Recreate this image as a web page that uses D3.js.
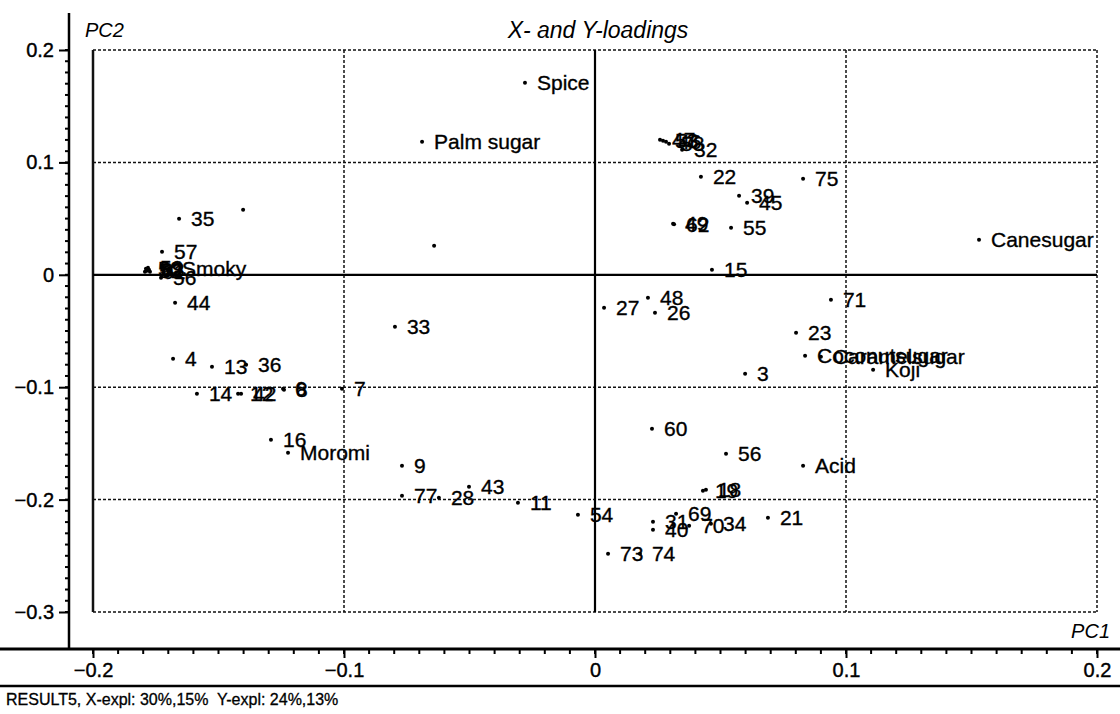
<!DOCTYPE html>
<html>
<head>
<meta charset="utf-8">
<script src="https://cdn.jsdelivr.net/npm/d3@7"></script>
<style>
  body { margin: 0; background: #fff; }
  svg { display: block; font-family: "Liberation Sans", Arial, sans-serif; }
</style>
</head>
<body>
<div class="box"></div>
<script>
// Loadings (PC1, PC2)
const names = ["Spice", "Palm sugar", "47", "53", "46", "58", "32", "22", "75", "39", "45", "49", "62",
  "55", "15", "Canesugar", "27", "48", "26", "71", "23", "Coconutsugar", "Caramelsugar", "Koji", "3",
  "60", "56", "Acid", "19", "18", "21", "31", "40", "69", "70", "34", "73", "74", "54", "11", "43",
  "28", "77", "9", "Moromi", "16", "7", "6", "8", "12", "42", "14", "13", "36", "4", "33", "44",
  "57", "35", "", "", "", "Smoky", "50", "52", "59", "61", "63", "56"];
const pc1 = [-0.0279, -0.0689, 0.0259, 0.0271, 0.0283, 0.0295, 0.0347, 0.0422, 0.0829, 0.0574, 0.0606, 0.0311, 0.0315,
  0.0542, 0.0466, 0.1530, 0.0036, 0.0211, 0.0239, 0.0940, 0.0801, 0.0837, 0.0900, 0.1108, 0.0598,
  0.0227, 0.0522, 0.0829, 0.0430, 0.0442, 0.0689, 0.0231, 0.0231, 0.0323, 0.0375, 0.0462, 0.0052, 0.0179, -0.0068, -0.0307, -0.0502,
  -0.0622, -0.0769, -0.0769, -0.1223, -0.1291, -0.1008, -0.1243, -0.1239, -0.1422, -0.1410, -0.1586, -0.1526, -0.1390, -0.1681, -0.0797, -0.1673,
  -0.1725, -0.1657, -0.1402, -0.0641, -0.1793, -0.1693, -0.1789, -0.1785, -0.1781, -0.1773, -0.1777, -0.1729];
const pc2 = [0.1708, 0.1183, 0.1201, 0.1192, 0.1183, 0.1165, 0.1112, 0.0872, 0.0854, 0.0703, 0.0641, 0.0454, 0.0450,
  0.0418, 0.0044, 0.0311, -0.0294, -0.0205, -0.0338, -0.0222, -0.0516, -0.0721, -0.0730, -0.0845, -0.0881,
  -0.1370, -0.1593, -0.1699, -0.1922, -0.1912, -0.2162, -0.2198, -0.2269, -0.2126, -0.2233, -0.2215, -0.2482, -0.2482, -0.2135, -0.2028, -0.1886,
  -0.1984, -0.1966, -0.1699, -0.1584, -0.1468, -0.1014, -0.1014, -0.1023, -0.1059, -0.1059, -0.1059, -0.0818, -0.0801, -0.0747, -0.0463, -0.0249,
  0.0205, 0.0498, 0.0578, 0.0258, 0.0027, 0.0053, 0.0053, 0.0036, 0.0062, 0.0027, 0.0044, -0.0027];

const gridX = [-0.2, -0.1, 0.1, 0.2];
const gridY = [0.2, 0.1, -0.1, -0.2, -0.3];
const xTicks = [-0.2, -0.1, 0, 0.1, 0.2];
const yTicks = [0.2, 0.1, 0, -0.1, -0.2, -0.3];
const footer = "RESULT5, X-expl: 30%,15%  Y-expl: 24%,13%";

const w = 1120, h = 714;
const axisX = 69, axisY = 649;

const xScale = d3.scaleLinear().domain([-0.2, 0.2]).range([93, 1097]);
const yScale = d3.scaleLinear().domain([-0.3, 0.2]).range([612, 50]);

const svg = d3.select(".box").append("svg")
    .attr("width", w)
    .attr("height", h);

// dotted grid (frame)
svg.selectAll(".gx").data(gridX).enter().append("line")
    .attr("x1", d => xScale(d)).attr("x2", d => xScale(d))
    .attr("y1", yScale(0.2)).attr("y2", yScale(-0.3))
    .attr("stroke", "#111").attr("stroke-width", d => d == -0.2 ? 2.5 : 1.5)
    .attr("stroke-dasharray", d => d == -0.2 ? null : "3,2");
svg.selectAll(".gy").data(gridY).enter().append("line")
    .attr("x1", xScale(-0.2)).attr("x2", xScale(0.2))
    .attr("y1", d => yScale(d)).attr("y2", d => yScale(d))
    .attr("stroke", "#111").attr("stroke-width", 1.5)
    .attr("stroke-dasharray", "3,2");

// zero lines
svg.append("line")
    .attr("x1", xScale(0)).attr("x2", xScale(0))
    .attr("y1", yScale(0.2)).attr("y2", yScale(-0.3))
    .attr("stroke", "#000").attr("stroke-width", 2.2);
svg.append("line")
    .attr("x1", xScale(-0.2)).attr("x2", xScale(0.2))
    .attr("y1", yScale(0)).attr("y2", yScale(0))
    .attr("stroke", "#000").attr("stroke-width", 2.2);

// y axis
const yAxis = d3.axisLeft(yScale).tickValues(yTicks).tickSize(10).tickPadding(5)
    .tickFormat(d => d == 0 ? "0" : d3.format(".1f")(d));
const gy = svg.append("g").attr("transform", "translate(" + axisX + ",0)").call(yAxis);
gy.select(".domain").remove();
gy.selectAll(".tick line").attr("stroke", "#000").attr("stroke-width", 2);
gy.selectAll("text").style("font-size", "20px").attr("fill", "#000")
    .attr("stroke", "#000").attr("stroke-width", 0.4);
svg.selectAll(".ymin").data(d3.range(-30, 21)).enter().append("line")
    .attr("x1", axisX - 4).attr("x2", axisX)
    .attr("y1", d => yScale(d / 100)).attr("y2", d => yScale(d / 100))
    .attr("stroke", "#000").attr("stroke-width", 2);
svg.append("line")
    .attr("x1", axisX).attr("x2", axisX).attr("y1", 13).attr("y2", axisY)
    .attr("stroke", "#000").attr("stroke-width", 2.5);

// x axis
const xAxis = d3.axisBottom(xScale).tickValues(xTicks).tickSize(9).tickPadding(5)
    .tickFormat(d => d == 0 ? "0" : d3.format(".1f")(d));
const gx = svg.append("g").attr("transform", "translate(0," + axisY + ")").call(xAxis);
gx.select(".domain").remove();
gx.selectAll(".tick line").attr("stroke", "#000").attr("stroke-width", 2);
gx.selectAll("text").style("font-size", "20px").attr("fill", "#000")
    .attr("stroke", "#000").attr("stroke-width", 0.4);
svg.selectAll(".xmin").data(d3.range(-20, 21)).enter().append("line")
    .attr("x1", d => xScale(d / 100)).attr("x2", d => xScale(d / 100))
    .attr("y1", axisY).attr("y2", axisY + 5)
    .attr("stroke", "#000").attr("stroke-width", 2);
svg.append("line")
    .attr("x1", 0).attr("x2", w).attr("y1", axisY).attr("y2", axisY)
    .attr("stroke", "#000").attr("stroke-width", 3);
svg.append("line")
    .attr("x1", 0).attr("x2", w).attr("y1", 686).attr("y2", 686)
    .attr("stroke", "#000").attr("stroke-width", 2.5);

// titles
svg.append("text").attr("x", 85).attr("y", 37).text("PC2")
    .style("font-style", "italic").style("font-size", "20px");
svg.append("text").attr("x", 1110).attr("y", 638).attr("text-anchor", "end").text("PC1")
    .style("font-style", "italic").style("font-size", "20px");
svg.append("text").attr("x", 598).attr("y", 38).attr("text-anchor", "middle").text("X- and Y-loadings")
    .style("font-style", "italic").style("font-size", "23px");
svg.append("text").attr("x", 6).attr("y", 705).text(footer)
    .style("font-size", "16px").style("white-space", "pre")
    .attr("stroke", "#000").attr("stroke-width", 0.3);

// points
const points = names.map((n, i) => ({ name: n, x: pc1[i], y: pc2[i] }));
svg.selectAll(".pt").data(points).enter().append("circle")
    .attr("cx", d => xScale(d.x))
    .attr("cy", d => yScale(d.y))
    .attr("r", 2)
    .attr("fill", "#000");
svg.selectAll(".lbl").data(points).enter().append("text")
    .attr("x", d => xScale(d.x) + 12)
    .attr("y", d => yScale(d.y))
    .attr("dy", "0.36em")
    .text(d => d.name)
    .style("font-size", "21px")
    .attr("fill", "#000")
    .attr("stroke", "#000").attr("stroke-width", 0.35);
</script>
</body>
</html>
